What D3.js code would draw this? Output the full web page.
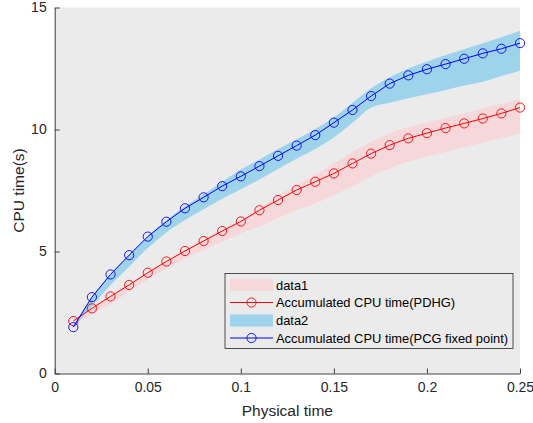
<!DOCTYPE html>
<html>
<head>
<meta charset="utf-8">
<script src="https://cdn.jsdelivr.net/npm/d3@7"></script>
<style>
html,body{margin:0;padding:0;background:#fff;}
svg{display:block;font-family:"Liberation Sans",Arial,sans-serif;}
</style>
</head>
<body>
<svg id="chart" width="533" height="423"></svg>
<script>
const xVals = [0.01,0.02,0.03,0.04,0.05,0.06,0.07,0.08,0.09,0.10,0.11,0.12,0.13,0.14,0.15,0.16,0.17,0.18,0.19,0.20,0.21,0.22,0.23,0.24,0.25];
const pdhg = [2.15,2.67,3.16,3.63,4.13,4.59,5.02,5.43,5.84,6.23,6.69,7.11,7.52,7.86,8.20,8.61,9.01,9.36,9.64,9.85,10.06,10.25,10.45,10.66,10.90];
const pdhgLo = [2.00,2.42,2.85,3.35,3.85,4.30,4.70,5.05,5.40,5.75,6.02,6.36,6.70,6.97,7.32,7.66,8.07,8.41,8.68,8.89,9.08,9.27,9.46,9.65,9.84];
const pdhgHi = [2.20,2.72,3.21,3.68,4.18,4.64,5.08,5.50,5.92,6.30,6.78,7.28,7.73,8.14,8.61,9.09,9.50,9.84,10.11,10.28,10.48,10.67,10.87,11.06,11.25];
const pcg = [1.90,3.13,4.06,4.85,5.61,6.22,6.77,7.22,7.68,8.08,8.50,8.92,9.34,9.77,10.28,10.80,11.37,11.88,12.22,12.47,12.68,12.90,13.12,13.31,13.54];
const pcgLo = [1.85,2.75,3.63,4.38,5.14,5.78,6.29,6.73,7.16,7.55,7.95,8.38,8.80,9.20,9.68,10.28,10.90,11.10,11.28,11.44,11.62,11.80,11.96,12.19,12.41];
const pcgHi = [1.95,3.15,4.08,4.88,5.64,6.28,6.85,7.35,7.86,8.36,8.77,9.20,9.60,10.02,10.50,11.10,11.69,12.14,12.50,12.78,13.05,13.29,13.53,13.78,14.05];
const xTicks = [0,0.05,0.1,0.15,0.2,0.25];
const yTicks = [0,5,10,15];
const legendLabels = ["data1","Accumulated CPU time(PDHG)","data2","Accumulated CPU time(PCG fixed point)"];

const svg = d3.select("#chart");
const L = 54.7, R = 520, T = 7.5, B = 373.5;
const x = d3.scaleLinear().domain([0,0.25]).range([L,R]);
const y = d3.scaleLinear().domain([0,15]).range([B,T]);

svg.append("rect").attr("x",L).attr("y",T).attr("width",R-L).attr("height",B-T).attr("fill","#ebebeb");

function band(lo,hi,color){
  const area = d3.area().curve(d3.curveMonotoneX).x((d,i)=>x(xVals[i])).y0((d,i)=>y(lo[i])).y1((d,i)=>y(hi[i]));
  svg.append("path").datum(lo).attr("d",area).attr("fill",color).attr("stroke","none");
}
function series(vals,color){
  const line = d3.line().x((d,i)=>x(xVals[i])).y(d=>y(d));
  svg.append("path").datum(vals).attr("d",line).attr("fill","none").attr("stroke",color).attr("stroke-width",1);
  svg.append("g").selectAll("circle").data(vals).join("circle")
    .attr("cx",(d,i)=>x(xVals[i])).attr("cy",d=>y(d)).attr("r",4.6)
    .attr("fill","none").attr("stroke",color).attr("stroke-width",0.9);
}
const pinkC = "#f6d8da", blueC = "#9dd4ec";
band(pdhgLo,pdhgHi,pinkC);
band(pcgLo,pcgHi,blueC);
series(pdhg,"#ff0000");
series(pcg,"#0000ff");

const axisColor = "#404040", textColor = "#262626";
const xAxis = svg.append("g").attr("transform",`translate(0,${B})`)
  .call(d3.axisBottom(x).tickValues(xTicks).tickFormat(d=>d3.format("~g")(d)).tickSizeInner(-5).tickSizeOuter(0).tickPadding(9));
const yAxis = svg.append("g").attr("transform",`translate(${L},0)`)
  .call(d3.axisLeft(y).tickValues(yTicks).tickSizeInner(-5).tickSizeOuter(0).tickPadding(8));
[xAxis,yAxis].forEach(g=>{
  g.select(".domain").attr("stroke",axisColor).attr("stroke-width",1);
  g.selectAll(".tick line").attr("stroke",axisColor);
  g.selectAll(".tick text").attr("fill",textColor).attr("font-size",14).attr("font-family","Liberation Sans, Arial, sans-serif");
});

svg.append("text").attr("x",(L+R)/2).attr("y",416).attr("text-anchor","middle")
  .attr("font-size",15.5).attr("fill",textColor).text("Physical time");
svg.append("text").attr("transform",`translate(24,${(T+B)/2}) rotate(-90)`).attr("text-anchor","middle")
  .attr("font-size",15.5).attr("fill",textColor).text("CPU time(s)");

// legend
const lg = svg.append("g");
const lx = 225, ly = 273.5, lw = 288, lh = 75;
lg.append("rect").attr("x",lx).attr("y",ly).attr("width",lw).attr("height",lh).attr("fill","#ebebeb").attr("stroke","#262626").attr("stroke-width",0.8);
const rowY = [285,302.5,320.5,338];
const kinds = [{t:"band",c:pinkC},{t:"line",c:"#ff0000"},{t:"band",c:blueC},{t:"line",c:"#0000ff"}];
kinds.forEach((k,i)=>{
  if(k.t==="band"){
    lg.append("rect").attr("x",230).attr("y",rowY[i]-6).attr("width",43).attr("height",12).attr("fill",k.c);
  } else {
    lg.append("line").attr("x1",230).attr("x2",273).attr("y1",rowY[i]).attr("y2",rowY[i]).attr("stroke",k.c).attr("stroke-width",1);
    lg.append("circle").attr("cx",251.5).attr("cy",rowY[i]).attr("r",4.6).attr("fill","none").attr("stroke",k.c).attr("stroke-width",0.9);
  }
  lg.append("text").attr("x",276).attr("y",rowY[i]+4.5).attr("font-size",12.9).attr("fill","#000").text(legendLabels[i]);
});
</script>
</body>
</html>
